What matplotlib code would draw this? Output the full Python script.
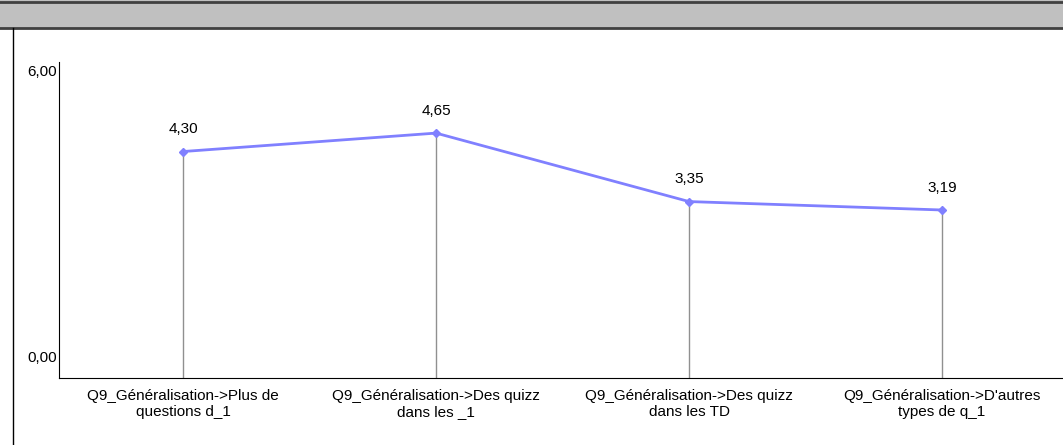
import matplotlib.pyplot as plt
from matplotlib.patches import Rectangle
from matplotlib.lines import Line2D

plt.rcParams['font.family'] = ['Liberation Sans', 'DejaVu Sans']

# Data
categories = ["Q9_Généralisation->Plus de\nquestions d_1",
              "Q9_Généralisation->Des quizz\ndans les _1",
              "Q9_Généralisation->Des quizz\ndans les TD",
              "Q9_Généralisation->D'autres\ntypes de q_1"]
values = [4.30, 4.65, 3.35, 3.19]
value_labels = ["4,30", "4,65", "3,35", "3,19"]

fig = plt.figure(figsize=(10.63, 4.45), dpi=100)

# header bar and frame
fig.patches.append(Rectangle((0, 1 - 28 / 445), 1, 28 / 445, transform=fig.transFigure,
                             facecolor='#c0c0c0', edgecolor='none', zorder=0))
fig.lines.append(Line2D([0, 1], [1 - 1.5 / 445] * 2, transform=fig.transFigure, color='#404040', lw=2))
fig.lines.append(Line2D([0, 1], [1 - 27.5 / 445] * 2, transform=fig.transFigure, color='#404040', lw=2))
fig.lines.append(Line2D([12.5 / 1063] * 2, [0, 1 - 28 / 445], transform=fig.transFigure, color='black', lw=1))

ax = fig.add_axes([59 / 1063, 67 / 445, 1 - 59 / 1063, 316 / 445])
x = list(range(len(values)))

ax.vlines(x, 0, values, color='#909090', lw=1)
ax.plot(x, values, color='#8080ff', lw=2, marker='D', markersize=4, zorder=3)
for xi, v, lab in zip(x, values, value_labels):
    ax.annotate(lab, (xi, v), xytext=(0, 11), textcoords='offset points',
                ha='center', va='bottom', fontsize=11)

ax.set_xlim(-0.49, 3.478)
ax.set_ylim(0, 6)
ax.set_xticks(x)
ax.set_xticklabels(categories, fontsize=11)
ax.tick_params(axis='x', length=0, pad=8)
ax.set_yticks([])
ax.text(-0.002, 5.95, "6,00", transform=ax.get_yaxis_transform(), ha='right', va='top', fontsize=11)
ax.text(-0.002, 0.25, "0,00", transform=ax.get_yaxis_transform(), ha='right', va='bottom', fontsize=11)

for s in ['top', 'right']:
    ax.spines[s].set_visible(False)
ax.spines['left'].set_color('black')
ax.spines['bottom'].set_color('black')

fig.savefig('out.png', dpi=100)
